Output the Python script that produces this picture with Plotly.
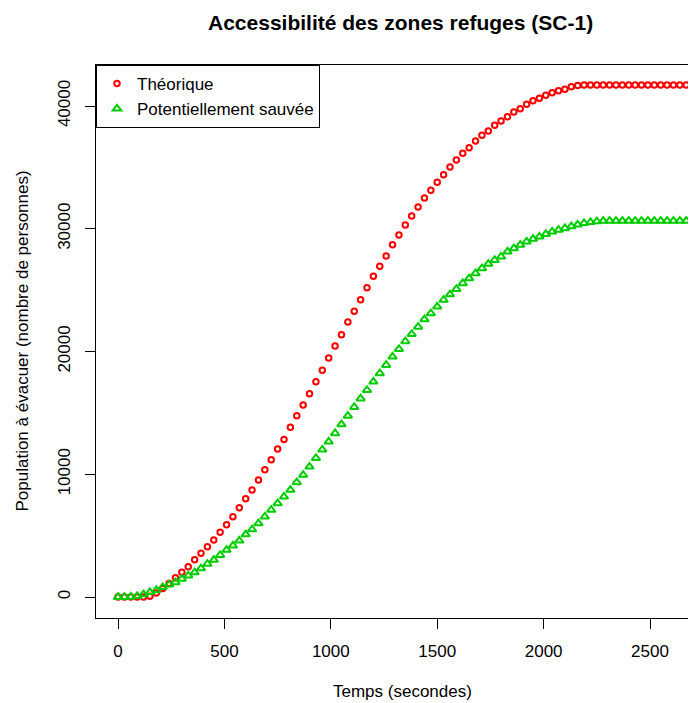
import plotly.graph_objects as go

# Time (seconds), sampled every 30 s
temps = list(range(0, 2671, 30))

theorique = [0, 0, 0, 0, 0, 60, 330, 700, 1100, 1575,
             2010, 2470, 3040, 3560, 4100, 4640, 5270, 5890, 6540, 7280,
             8000, 8710, 9540, 10360, 11190, 12050, 12840, 13820, 14760, 15640,
             16560, 17540, 18470, 19470, 20450, 21370, 22400, 23270, 24220, 25200,
             26130, 26950, 27770, 28700, 29490, 30310, 31040, 31770, 32510, 33130,
             33780, 34400, 35030, 35600, 36150, 36600, 37150, 37610, 37960, 38430,
             38780, 39130, 39510, 39780, 40140, 40420, 40630, 40880, 41070, 41250,
             41360, 41560, 41660, 41710,
             41710, 41710, 41710, 41710, 41710, 41710, 41710, 41710,
             41710, 41710, 41710, 41710, 41710, 41710, 41710, 41710]

sauvee = [0, 0, 20, 80, 220, 390, 550, 800, 1000, 1200,
          1480, 1750, 2000, 2330, 2700, 3020, 3420, 3830, 4180, 4590,
          5100, 5510, 6000, 6540, 7090, 7630, 8170, 8720, 9340, 9940,
          10620, 11320, 12000, 12650, 13340, 14070, 14760, 15470, 16170, 16860,
          17540, 18220, 18900, 19580, 20200, 20830, 21420, 22010, 22620, 23110,
          23650, 24200, 24650, 25090, 25560, 25960, 26370, 26780, 27130, 27450,
          27730, 28130, 28410, 28680, 28950, 29170, 29350, 29570, 29760, 29900,
          30040, 30200, 30340, 30450, 30540, 30600,
          30650, 30650, 30650, 30650, 30650, 30650, 30650,
          30650, 30650, 30650, 30650, 30650, 30650, 30650]

x_ticks = [0, 500, 1000, 1500, 2000, 2500]
y_ticks = [0, 10000, 20000, 30000, 40000]

FONT = "Liberation Sans, Arial, sans-serif"

fig = go.Figure()
fig.add_trace(go.Scatter(
    x=temps, y=theorique, mode="markers", name="Théorique",
    marker=dict(symbol="circle-open", size=5.5, color="#FF0000",
                line=dict(width=2, color="#FF0000")),
))
fig.add_trace(go.Scatter(
    x=temps, y=sauvee, mode="markers", name="Potentiellement sauvée",
    marker=dict(symbol="triangle-up-open", size=7.5, color="#00CD00",
                line=dict(width=2, color="#00CD00")),
))

axis_common = dict(
    showgrid=False, zeroline=False, showline=True, linecolor="#000000",
    linewidth=1, ticks="outside", ticklen=10, tickwidth=1, tickcolor="#000000",
    tickfont=dict(family=FONT, size=17, color="#000000"),
)

# page body has an 8px margin: figure is 688x695 so it fills the 696x703 window
fig.update_layout(
    width=688, height=695,
    margin=dict(l=88, r=0, t=57, b=85),
    paper_bgcolor="white", plot_bgcolor="white",
    font=dict(family=FONT, size=17, color="#000000"),
    showlegend=True,
    legend=dict(
        x=0, y=1, xanchor="left", yanchor="top",
        bgcolor="white", bordercolor="#000000", borderwidth=1,
        font=dict(family=FONT, size=17, color="#000000"),
        itemwidth=30, tracegroupgap=0,
    ),
    xaxis=dict(range=[-103.4, 2716], tickvals=x_ticks,
               ticktext=[str(v) for v in x_ticks], mirror=True,
               ticklabelstandoff=8, **axis_common),
    yaxis=dict(range=[-1711, 43340], tickvals=y_ticks,
               ticktext=[str(v) for v in y_ticks], tickangle=-90,
               ticklabelstandoff=8, **axis_common),
    annotations=[
        dict(text="<b>Accessibilité des zones refuges (SC-1)</b>",
             xref="paper", yref="paper", x=0.508, y=1.0777,
             xanchor="center", yanchor="middle", showarrow=False,
             font=dict(family=FONT, size=21, color="#000000")),
        dict(text="Temps (secondes)", xref="paper", yref="paper",
             x=0.51, y=-0.1338, xanchor="center", yanchor="middle",
             showarrow=False, font=dict(family=FONT, size=17, color="#000000")),
        dict(text="Population à évacuer (nombre de personnes)",
             xref="paper", yref="paper", x=-0.1233, y=0.5,
             xanchor="center", yanchor="middle", textangle=-90,
             showarrow=False, font=dict(family=FONT, size=17, color="#000000")),
    ],
)

fig.write_html("out.html")
